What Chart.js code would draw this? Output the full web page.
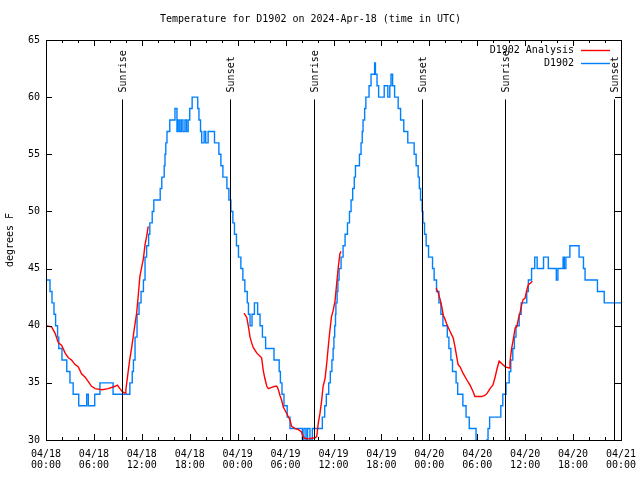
<!DOCTYPE html>
<html>
<head>
<meta charset="utf-8">
<script src="https://cdn.jsdelivr.net/npm/chart.js@4"></script>
<style>
  html, body { margin: 0; padding: 0; background: #fff; }
</style>
</head>
<body>
<canvas id="tempChart" width="640" height="480"></canvas>
<script>
// hours since 04/18 00:00 UTC
const obsHours = [0,0.5,0.75,1.0,1.2,1.45,1.6,2.0,2.6,3.0,3.4,4.1,5.1,5.3,6.1,6.75,8.4,10.5,10.8,10.95,
  11.15,11.4,11.65,11.9,12.2,12.4,12.6,12.85,13.0,13.3,13.5,14.3,14.5,14.8,14.9,15.0,15.15,15.5,16.15,16.4,
  16.55,16.75,16.95,17.15,17.4,17.6,17.8,18.0,18.3,19.0,19.15,19.35,19.5,19.8,20.0,20.3,21.1,21.65,21.9,22.15,
  22.65,22.9,23.15,23.4,23.6,23.85,24.1,24.4,24.65,24.9,25.2,25.35,25.55,25.8,26.1,26.5,26.8,27.1,27.5,28.55,
  29.2,29.35,29.55,29.8,30.2,30.55,32.1,32.3,32.55,32.75,33.05,33.35,34.6,34.9,35.1,35.4,35.6,35.8,35.95,36.05,
  36.15,36.25,36.3,36.45,36.55,36.7,36.95,37.2,37.45,37.75,38.0,38.2,38.4,38.6,38.75,39.25,39.45,39.6,39.7,39.9,
  40.05,40.45,40.7,41.15,41.25,41.45,41.65,42.35,42.8,43.05,43.2,43.4,43.65,44.1,44.4,44.8,45.3,46.1,46.35,46.6,
  46.75,46.9,47.1,47.2,47.4,47.6,47.9,48.4,48.6,48.9,49.2,49.45,49.7,50.25,50.45,50.7,50.9,51.35,51.55,52.2,
  52.6,53.0,53.85,54.0,55.2,55.35,55.55,56.95,57.2,57.6,58.0,58.2,58.45,58.65,58.85,59.25,59.5,60.2,60.4,60.8,
  61.2,61.5,62.3,62.9,63.9,64.1,64.75,64.9,65.1,65.6,66.75,67.3,67.5,69.05,69.9,72];
const obsTemps = [44,43,42,41,40,39,38,37,36,35,34,33,34,33,34,35,34,35,36,37,
  39,41,42,43,44,46,47,48,49,50,51,52,53,54,55,56,57,58,59,57,
  58,57,58,57,58,57,58,59,60,59,58,57,56,57,56,57,56,55,54,53,
  52,51,50,49,48,47,46,45,44,43,42,41,40,41,42,41,40,39,38,37,
  36,35,34,33,32,31,30,31,30,31,30,31,32,33,34,35,36,37,38,39,
  40,41,42,43,44,45,46,47,48,49,50,51,52,53,54,55,56,57,58,59,
  60,61,62,63,62,61,60,61,60,61,62,61,60,59,58,57,56,55,54,53,
  52,51,50,49,48,47,46,45,44,43,42,41,40,39,38,37,36,35,34,33,
  32,31,30,29,30,31,32,33,34,35,36,37,38,39,40,41,42,43,44,45,
  46,45,46,45,44,45,46,45,46,47,46,45,44,43,42,42];

// analysis, null = gap
const anaHours = [0,0.7,1.13,1.55,1.95,2.4,2.8,3.2,3.65,4.05,4.45,4.9,5.3,5.7,6.15,7.0,7.8,8.65,8.95,9.25,
  9.6,9.9,10.0,10.2,10.45,10.75,11.05,11.35,11.55,11.75,12.0,12.2,12.4,12.6,12.8,18,
  24.8,25.15,25.35,25.55,25.75,25.95,26.4,27.0,27.2,27.4,27.65,27.85,28.25,28.7,28.9,29.1,29.3,29.5,29.7,30.15,
  30.55,30.75,31.2,31.6,32.0,32.2,32.4,32.85,33.25,33.7,33.9,34.1,34.3,34.5,34.7,34.95,35.15,35.35,35.55,35.75,
  35.95,36.2,36.4,36.6,36.8,36.95,42,
  48.85,49.1,49.35,49.55,49.75,49.95,50.15,50.4,50.6,50.8,51.0,51.2,51.4,51.6,51.85,52.25,52.7,53.1,53.5,53.7,
  54.55,54.95,55.25,55.6,55.95,56.2,56.5,56.75,57.05,57.5,58.0,58.1,58.3,58.5,58.75,58.95,59.15,59.35,59.55,59.75,
  59.98,60.2,60.4,60.6,60.9];
const anaTemps = [40,39.9,39.35,38.5,38.3,37.6,37.2,37.0,36.6,36.4,35.8,35.5,35.1,34.7,34.5,34.4,34.5,34.7,34.8,34.5,
  34.2,34.1,34.4,35.5,36.85,38.2,39.7,41.1,42.6,44.3,45.2,45.9,47.1,47.8,48.7,null,
  41.1,40.7,39.9,39.0,38.5,38.1,37.6,37.2,36.1,35.4,34.7,34.5,34.6,34.7,34.7,34.4,33.9,33.5,32.9,32.3,
  31.75,31.2,31.0,30.9,30.7,30.3,30.15,30.1,30.15,30.2,30.3,31.5,32.3,33.35,34.7,35.4,36.7,38.2,39.6,40.8,
  41.3,42.2,43.7,45.1,46.3,46.5,null,
  43.3,42.9,42.3,41.7,40.9,40.6,40.2,39.8,39.5,39.2,38.9,38.2,37.4,36.6,36.4,35.8,35.25,34.8,34.2,33.8,
  33.8,33.9,34.1,34.5,34.8,35.4,36.3,36.9,36.7,36.4,36.3,36.85,38.0,38.75,39.8,39.9,40.6,41.1,41.8,42.3,
  42.4,43.1,43.6,43.7,43.9];

const sunHours = [9.55, 23.1, 33.55, 47.1, 57.5, 71.15];
const sunLabels = ['Sunrise', 'Sunset', 'Sunrise', 'Sunset', 'Sunrise', 'Sunset'];
const sunLineTop = 59.8;

const xTickLabels = [['04/18','00:00'],['04/18','06:00'],['04/18','12:00'],['04/18','18:00'],
  ['04/19','00:00'],['04/19','06:00'],['04/19','12:00'],['04/19','18:00'],
  ['04/20','00:00'],['04/20','06:00'],['04/20','12:00'],['04/20','18:00'],['04/21','00:00']];

const MONO = "'DejaVu Sans Mono', 'Liberation Mono', monospace";
Chart.defaults.font.family = MONO;
Chart.defaults.font.size = 10;
Chart.defaults.color = '#000';

const toXY = (xs, ys) => xs.map((x, i) => ({ x: x, y: ys[i] }));

// frame, inward ticks, sun lines, legend
const decor = {
  id: 'decor',
  afterDatasetsDraw(chart) {
    const ctx = chart.ctx;
    const a = chart.chartArea;
    const xs = chart.scales.x, ys = chart.scales.y;
    ctx.save();
    ctx.strokeStyle = '#000';
    ctx.lineWidth = 1;
    ctx.beginPath();
    for (let h = 0; h <= 72; h += 2) {
      const px = Math.round(xs.getPixelForValue(h)) + 0.5;
      const len = h % 6 === 0 ? 6 : 3;
      ctx.moveTo(px, a.bottom); ctx.lineTo(px, a.bottom - len);
      ctx.moveTo(px, a.top); ctx.lineTo(px, a.top + len);
    }
    for (let v = 30; v <= 65; v += 5) {
      const py = Math.round(ys.getPixelForValue(v)) + 0.5;
      ctx.moveTo(a.left, py); ctx.lineTo(a.left + 6, py);
      ctx.moveTo(a.right, py); ctx.lineTo(a.right - 6, py);
    }
    ctx.stroke();
    ctx.strokeRect(Math.round(a.left) + 0.5, Math.round(a.top) + 0.5,
      Math.round(a.right - a.left), Math.round(a.bottom - a.top));

    // sunrise / sunset markers
    const topY = ys.getPixelForValue(sunLineTop);
    ctx.font = '10px ' + MONO;
    ctx.fillStyle = '#000';
    sunHours.forEach((h, i) => {
      const px = Math.round(xs.getPixelForValue(h)) + 0.5;
      ctx.beginPath();
      ctx.moveTo(px, a.bottom);
      ctx.lineTo(px, topY);
      ctx.stroke();
      ctx.save();
      ctx.translate(px + 1, topY - 7);
      ctx.rotate(-Math.PI / 2);
      ctx.textAlign = 'left';
      ctx.textBaseline = 'middle';
      ctx.fillText(sunLabels[i], 0, 0);
      ctx.restore();
    });

    // key, top right
    ctx.textAlign = 'right';
    ctx.textBaseline = 'middle';
    chart.data.datasets.forEach((ds, i) => {
      const y = a.top + 9.5 + i * 13;
      ctx.fillStyle = '#000';
      ctx.fillText(ds.label, a.right - 47, y + 1);
      ctx.strokeStyle = ds.borderColor;
      ctx.lineWidth = 1.4;
      ctx.beginPath();
      ctx.moveTo(a.right - 40, Math.round(y) + 0.5);
      ctx.lineTo(a.right - 11, Math.round(y) + 0.5);
      ctx.stroke();
    });
    ctx.restore();
  }
};

new Chart(document.getElementById('tempChart'), {
  type: 'line',
  data: {
    datasets: [
      {
        label: 'D1902 Analysis',
        data: toXY(anaHours, anaTemps),
        borderColor: '#ff0000',
        borderWidth: 1.4,
        pointRadius: 0,
        spanGaps: false,
        tension: 0
      },
      {
        label: 'D1902',
        data: toXY(obsHours, obsTemps),
        borderColor: '#0080ff',
        borderWidth: 1.4,
        pointRadius: 0,
        stepped: true
      }
    ]
  },
  options: {
    responsive: false,
    animation: false,
    devicePixelRatio: 1,
    layout: { padding: { left: 0, right: 19, top: 0, bottom: 0 } },
    plugins: {
      legend: { display: false },
      tooltip: { enabled: false },
      title: {
        display: true,
        text: 'Temperature for D1902 on 2024-Apr-18 (time in UTC)',
        font: { size: 10, weight: 'normal', lineHeight: 1.2 },
        color: '#000',
        padding: { top: 13, bottom: 15 }
      }
    },
    scales: {
      x: {
        type: 'linear',
        min: 0,
        max: 72,
        grid: { display: false, drawTicks: false },
        border: { display: false },
        ticks: {
          stepSize: 6,
          autoSkip: false,
          maxRotation: 0,
          padding: 9,
          font: { size: 10, lineHeight: 1.1 },
          callback: (v) => xTickLabels[Math.round(v / 6)]
        },
        afterFit: (s) => { s.height = 40; s.paddingLeft = 0; s.paddingRight = 0; }
      },
      y: {
        min: 30,
        max: 65,
        grid: { display: false, drawTicks: false },
        border: { display: false },
        ticks: { stepSize: 5, padding: 6, font: { size: 10 } },
        title: { display: true, text: 'degrees F', font: { size: 10 }, padding: { top: 4, bottom: 0 } },
        afterFit: (s) => { s.width = 46; }
      }
    }
  },
  plugins: [decor]
});
</script>
</body>
</html>
